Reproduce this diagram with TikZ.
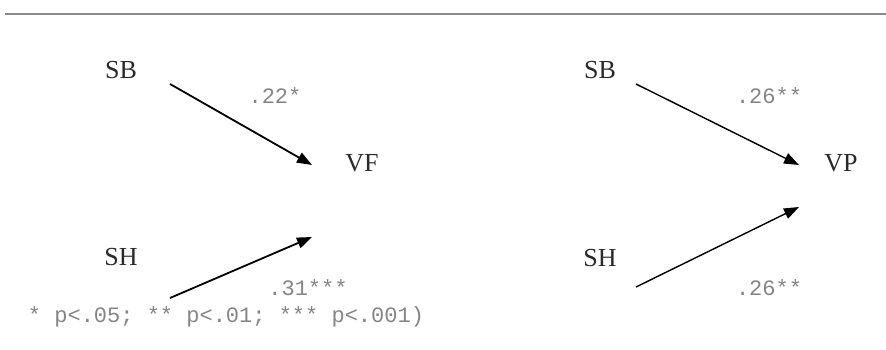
\documentclass[tikz,border=0pt]{standalone}
\usepackage{fontspec}
\setmainfont{Liberation Serif}
\newfontfamily\monofont{Liberation Mono}
\usetikzlibrary{arrows.meta}
\definecolor{lab}{HTML}{2A2A2A}
\definecolor{num}{HTML}{858585}
\definecolor{rule}{HTML}{8A8A8A}
\tikzset{
  var/.style={text=lab, font=\fontsize{26}{28}\selectfont, inner sep=0pt},
  coef/.style={text=num, font=\monofont\fontsize{22}{24}\selectfont, inner sep=0pt},
  path/.style={draw=black, line width=1.8pt, -{Triangle[length=15pt,width=11pt]}},
}
\begin{document}
\begin{tikzpicture}[x=1pt,y=-1pt]
\useasboundingbox (0,0) rectangle (886,349);
\fill[white] (0,0) rectangle (886,349);
\coordinate (r1) at (5,14);
\coordinate (r2) at (886,14);
\draw[rule, line width=2pt] (r1) -- (r2);
% left panel
\node[var] (sb1) at (121,70) {SB};
\node[var] (vf) at (362,163) {VF};
\node[var] (sh1) at (121,257) {SH};
\node[coef] (c1) at (275,96) {.22*};
\node[coef] (c2) at (308,288) {.31***};
\node[coef] (fn) at (226,317) {* p<.05; ** p<.01; *** p<.001)};
\coordinate (a1s) at (170,84);
\coordinate (a1e) at (312,165);
\coordinate (a2s) at (170,298);
\coordinate (a2e) at (312,237);
\draw[path] (a1s) -- (a1e);
\draw[path] (a2s) -- (a2e);
% right panel
\node[var] (sb2) at (600,70) {SB};
\node[var] (vp) at (841,163) {VP};
\node[var] (sh2) at (600,258) {SH};
\node[coef] (c3) at (769,96) {.26**};
\node[coef] (c4) at (769,288) {.26**};
\coordinate (b1s) at (636,84);
\coordinate (b1e) at (799,165);
\coordinate (b2s) at (636,287);
\coordinate (b2e) at (799,207);
\draw[path, line width=1.4pt] (b1s) -- (b1e);
\draw[path, line width=1.4pt] (b2s) -- (b2e);
\end{tikzpicture}
\end{document}
